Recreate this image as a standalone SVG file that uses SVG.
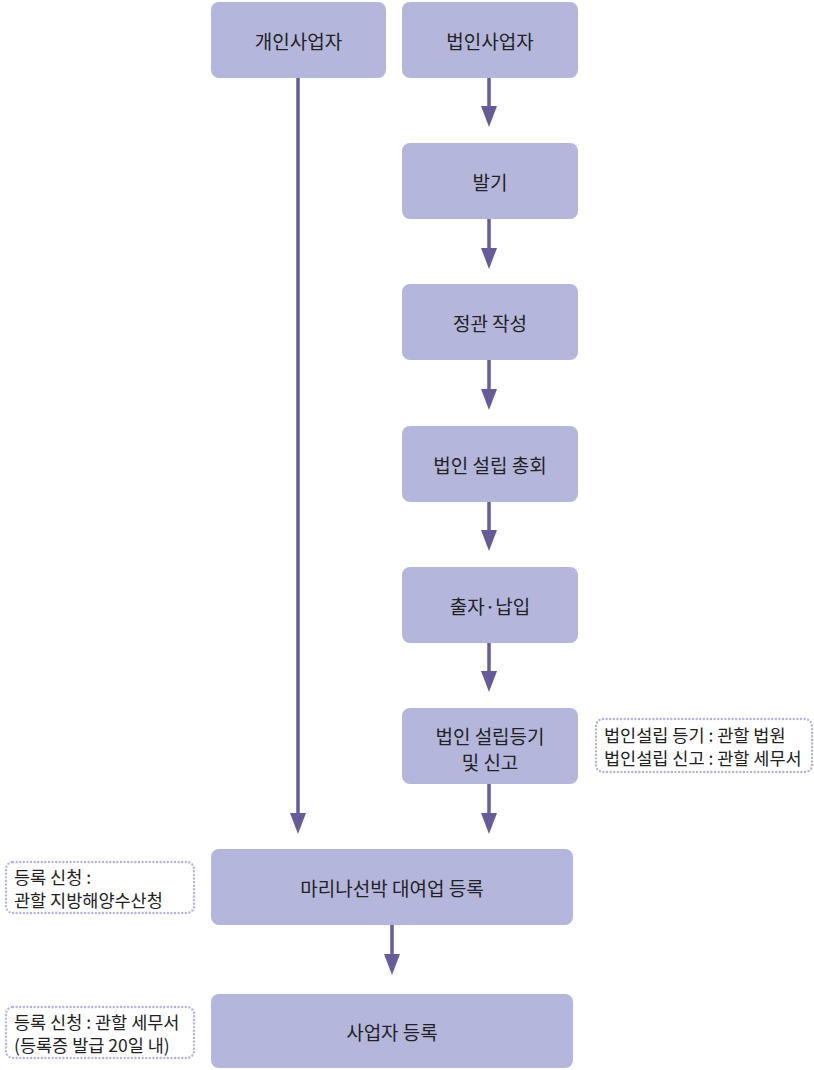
<svg xmlns="http://www.w3.org/2000/svg" width="814" height="1070" viewBox="0 0 814 1070">
<style>
.box{fill:#b4b6dc;}
.t{font-family:"Noto Sans CJK KR","Noto Sans",sans-serif;font-size:19px;fill:#222;text-anchor:middle;dominant-baseline:central;}
.n{fill:none;stroke:#b3b3d6;stroke-width:2.4;stroke-dasharray:0 3.6;stroke-linecap:round;}
.a{font-family:"Noto Sans CJK KR","Noto Sans",sans-serif;font-size:17.5px;fill:#222;dominant-baseline:central;}
.c{stroke:#675c99;stroke-width:3.5;fill:none;marker-end:url(#ah);}
</style>
<defs>
<marker id="ah" markerUnits="userSpaceOnUse" markerWidth="22" markerHeight="16" refX="12" refY="8" orient="auto" viewBox="0 0 22 16">
<path d="M0,0 L21,8 L0,16 Z" fill="#675c99"/>
</marker>
</defs>
<g id="connectors">
<line class="c" x1="298" y1="78" x2="298" y2="825"/>
<line class="c" x1="489" y1="78" x2="489" y2="118"/>
<line class="c" x1="489" y1="219" x2="489" y2="260"/>
<line class="c" x1="489" y1="360" x2="489" y2="401"/>
<line class="c" x1="489" y1="502" x2="489" y2="542"/>
<line class="c" x1="489" y1="643" x2="489" y2="683"/>
<line class="c" x1="489" y1="784" x2="489" y2="825"/>
<line class="c" x1="392" y1="925" x2="392" y2="966"/>
</g>
<g id="n-individual"><rect class="box" x="211" y="2" width="175" height="76" rx="8"/><text class="t" x="298.5" y="40">개인사업자</text></g>
<g id="n-corporate"><rect class="box" x="402" y="2" width="176" height="76" rx="8"/><text class="t" x="490" y="40">법인사업자</text></g>
<g id="n-promotion"><rect class="box" x="402" y="143" width="176" height="76" rx="8"/><text class="t" x="490" y="181">발기</text></g>
<g id="n-articles"><rect class="box" x="402" y="284" width="176" height="76" rx="8"/><text class="t" x="490" y="322">정관 작성</text></g>
<g id="n-meeting"><rect class="box" x="402" y="426" width="176" height="76" rx="8"/><text class="t" x="490" y="464">법인 설립 총회</text></g>
<g id="n-payment"><rect class="box" x="402" y="567" width="176" height="76" rx="8"/><text class="t" x="490" y="605">출자·납입</text></g>
<g id="n-registration"><rect class="box" x="402" y="708" width="176" height="76" rx="8"/><text class="t" x="490" y="735">법인 설립등기</text><text class="t" x="490" y="761">및 신고</text></g>
<g id="n-marina"><rect class="box" x="211" y="849" width="362" height="76" rx="8"/><text class="t" x="392" y="887">마리나선박 대여업 등록</text></g>
<g id="n-business"><rect class="box" x="211" y="994" width="362" height="74" rx="8"/><text class="t" x="392" y="1031">사업자 등록</text></g>
<g id="note-corp"><rect class="n" x="596" y="719" width="216" height="53" rx="7"/><text class="a" x="604" y="734">법인설립 등기 : 관할 법원</text><text class="a" x="604" y="757">법인설립 신고 : 관할 세무서</text></g>
<g id="note-marina"><rect class="n" x="6" y="862" width="188" height="51" rx="7"/><text class="a" x="14" y="876">등록 신청 :</text><text class="a" x="14" y="899">관할 지방해양수산청</text></g>
<g id="note-business"><rect class="n" x="6" y="1007" width="188" height="51" rx="7"/><text class="a" x="14" y="1021">등록 신청 : 관할 세무서</text><text class="a" x="14" y="1044">(등록증 발급 20일 내)</text></g>
</svg>
